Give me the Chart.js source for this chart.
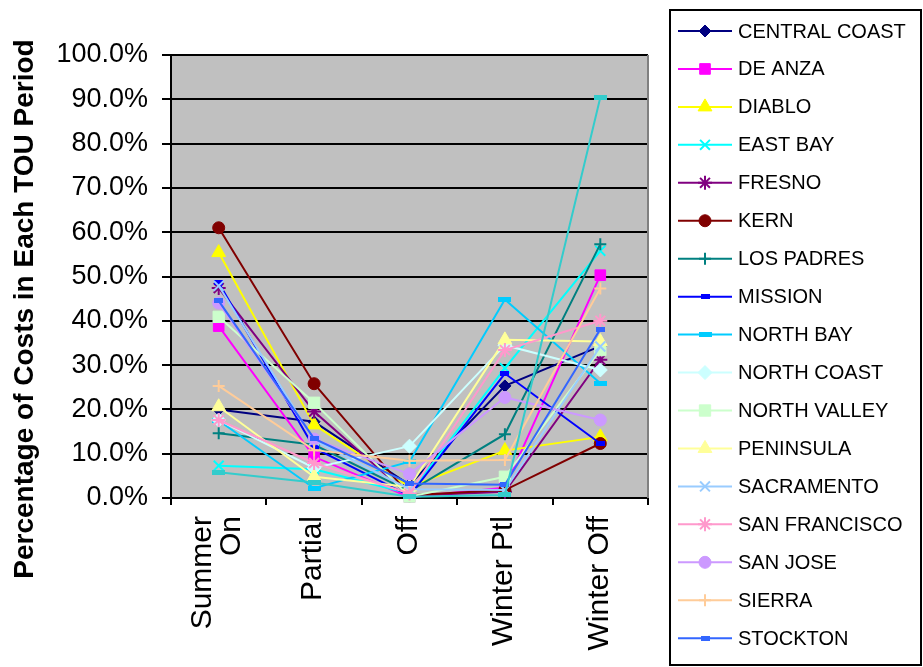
<!DOCTYPE html>
<html>
<head>
<meta charset="utf-8">
<script src="https://cdn.jsdelivr.net/npm/chart.js@4.4.1/dist/chart.umd.min.js"></script>
<style>
  html, body { margin: 0; padding: 0; background: #ffffff; }
  #wrap { width: 923px; height: 667px; position: relative; }
</style>
</head>
<body>
<div id="wrap"><canvas id="c" width="923" height="667"></canvas></div>
<script>
// TOU periods along the x axis
const categories = [['Summer', 'On'], 'Partial', 'Off', 'Winter Ptl', 'Winter Off'];

// Share of costs (%) falling in each TOU period, one array per division
const centralCoast = [20.0, 17.2, 3.0, 25.3, 34.3];
const deAnza       = [38.8, 9.3, 0.2, 2.3, 50.3];
const diablo       = [55.4, 16.5, 2.5, 10.7, 13.8];
const eastBay      = [7.3, 6.5, 1.0, 29.3, 55.8];
const fresno       = [47.4, 19.5, 0.5, 1.4, 31.2];
const kern         = [61.0, 25.8, 0.6, 1.8, 12.3];
const losPadres    = [14.6, 12.0, 1.5, 14.4, 57.3];
const mission      = [48.6, 11.3, 0.5, 28.1, 12.3];
const northBay     = [17.5, 2.2, 8.2, 44.8, 25.9];
const northCoast   = [17.6, 6.8, 11.7, 34.5, 28.9];
const northValley  = [40.9, 21.5, 0.3, 4.8, 33.4];
const peninsula    = [20.6, 4.8, 2.5, 35.7, 35.3];
const sacramento   = [47.9, 13.0, 2.0, 1.8, 34.2];
const sanFrancisco = [17.6, 7.9, 1.0, 33.4, 40.0];
const sanJose      = [44.0, 13.3, 5.4, 22.7, 17.6];
const sierra       = [25.3, 10.8, 8.4, 8.6, 47.3];
const stockton     = [44.5, 13.4, 3.3, 3.0, 38.1];
const yosemite     = [5.8, 3.5, 0.3, 0.7, 90.4];

// Y axis tick values (%)
const yTicks = [0, 10, 20, 30, 40, 50, 60, 70, 80, 90, 100];

// Small filled bar used as the "dash" marker
function dashMarker(color, w, h) {
  const c = document.createElement('canvas');
  c.width = w; c.height = h;
  const g = c.getContext('2d');
  g.fillStyle = color;
  g.fillRect(0, 0, w, h);
  return c;
}

// name, values, colour, marker style, marker radius, shown in legend
const seriesDefs = [
  ['CENTRAL COAST', centralCoast, '#000080', 'rectRot', 6, true],
  ['DE ANZA', deAnza, '#FF00FF', 'rect', 7.5, true],
  ['DIABLO', diablo, '#FFFF00', 'triangle', 8, true],
  ['EAST BAY', eastBay, '#00FFFF', 'crossRot', 7, true],
  ['FRESNO', fresno, '#800080', 'star', 7, true],
  ['KERN', kern, '#800000', 'circle', 6, true],
  ['LOS PADRES', losPadres, '#008080', 'cross', 6, true],
  ['MISSION', mission, '#0000FF', dashMarker('#0000FF', 9, 5), 5, true],
  ['NORTH BAY', northBay, '#00CCFF', dashMarker('#00CCFF', 13, 5), 5, true],
  ['NORTH COAST', northCoast, '#CCFFFF', 'rectRot', 7, true],
  ['NORTH VALLEY', northValley, '#CCFFCC', 'rect', 8, true],
  ['PENINSULA', peninsula, '#FFFF99', 'triangle', 8, true],
  ['SACRAMENTO', sacramento, '#99CCFF', 'crossRot', 7, true],
  ['SAN FRANCISCO', sanFrancisco, '#FF99CC', 'star', 7, true],
  ['SAN JOSE', sanJose, '#CC99FF', 'circle', 6, true],
  ['SIERRA', sierra, '#FFCC99', 'cross', 6, true],
  ['STOCKTON', stockton, '#3366FF', dashMarker('#3366FF', 9, 5), 5, true],
  ['YOSEMITE', yosemite, '#33CCCC', dashMarker('#33CCCC', 13, 5), 5, false]
];

const n = seriesDefs.length;
const datasets = seriesDefs.map((s, i) => ({
  label: s[0],
  data: s[1],
  borderColor: s[2],
  backgroundColor: s[2],
  pointStyle: s[3],
  pointRadius: s[4],
  pointHoverRadius: s[4],
  pointBorderColor: s[2],
  pointBackgroundColor: s[2],
  pointBorderWidth: (s[3] === 'cross' || s[3] === 'crossRot' || s[3] === 'star') ? 2 : 1,
  borderWidth: 2,
  tension: 0,
  fill: false,
  clip: false,
  order: n - 1 - i,
  inLegend: s[5]
}));

const FONT = "'Liberation Sans', Arial, sans-serif";
const PLOT = { left: 171, top: 55, right: 648, bottom: 498 };

// Grey plot background and the grey right-hand frame
const plotFrame = {
  id: 'plotFrame',
  beforeDraw(chart) {
    const a = chart.chartArea, ctx = chart.ctx;
    ctx.save();
    ctx.fillStyle = '#C0C0C0';
    ctx.fillRect(a.left, a.top, a.right - a.left, a.bottom - a.top);
    ctx.restore();
  },
  beforeDatasetsDraw(chart) {
    const a = chart.chartArea, ctx = chart.ctx;
    ctx.save();
    ctx.strokeStyle = '#808080';
    ctx.lineWidth = 2;
    ctx.beginPath();
    ctx.moveTo(a.right, a.top);
    ctx.lineTo(a.right, a.bottom);
    ctx.stroke();
    ctx.restore();
  }
};

// Category labels, rotated to read upwards and ending just below the axis
const xLabels = {
  id: 'xLabels',
  afterDraw(chart) {
    const ctx = chart.ctx, xs = chart.scales.x;
    const lineH = 29;
    ctx.save();
    ctx.font = '30px ' + FONT;
    ctx.fillStyle = '#000';
    ctx.textAlign = 'right';
    ctx.textBaseline = 'middle';
    chart.data.labels.forEach((lab, i) => {
      const lines = Array.isArray(lab) ? lab : [lab];
      const cx = xs.getPixelForValue(i) - 1;
      lines.forEach((t, k) => {
        const x = cx + (k - (lines.length - 1) / 2) * lineH;
        ctx.save();
        ctx.translate(x, 516);
        ctx.rotate(-Math.PI / 2);
        ctx.fillText(t, 0, 0);
        ctx.restore();
      });
    });
    ctx.restore();
  }
};

// Rotated y axis title
const yTitle = {
  id: 'yTitle',
  afterDraw(chart) {
    const ctx = chart.ctx;
    ctx.save();
    ctx.translate(33, 309);
    ctx.rotate(-Math.PI / 2);
    ctx.font = 'bold 28px ' + FONT;
    ctx.fillStyle = '#000';
    ctx.textAlign = 'center';
    ctx.textBaseline = 'alphabetic';
    ctx.fillText('Percentage of Costs in Each TOU Period', 0, 0);
    ctx.restore();
  }
};

// Boxed legend with line + marker samples
const boxLegend = {
  id: 'boxLegend',
  afterDraw(chart) {
    const ctx = chart.ctx;
    ctx.save();
    ctx.strokeStyle = '#000';
    ctx.lineWidth = 2;
    ctx.strokeRect(670, 10, 251, 655);
    let row = 0;
    chart.data.datasets.forEach(ds => {
      if (!ds.inLegend) return;
      const y = 31 + row * 37.95;
      ctx.strokeStyle = ds.borderColor;
      ctx.lineWidth = 2;
      ctx.beginPath();
      ctx.moveTo(678, y);
      ctx.lineTo(732, y);
      ctx.stroke();
      ctx.fillStyle = ds.pointBackgroundColor;
      ctx.strokeStyle = ds.pointBorderColor;
      ctx.lineWidth = ds.pointBorderWidth;
      Chart.helpers.drawPoint(ctx, {
        pointStyle: ds.pointStyle,
        radius: ds.pointRadius,
        borderWidth: ds.pointBorderWidth,
        rotation: 0
      }, 705, y);
      ctx.fillStyle = '#000';
      ctx.font = '20px ' + FONT;
      ctx.textAlign = 'left';
      ctx.textBaseline = 'middle';
      ctx.fillText(ds.label, 738, y + 1);
      row++;
    });
    ctx.restore();
  }
};

new Chart(document.getElementById('c'), {
  type: 'line',
  data: { labels: categories, datasets: datasets },
  options: {
    responsive: false,
    animation: false,
    events: [],
    layout: { padding: { left: 0, top: PLOT.top, right: 923 - PLOT.right, bottom: 0 } },
    plugins: { legend: { display: false }, tooltip: { enabled: false } },
    scales: {
      x: {
        offset: true,
        grid: { display: true, offset: true, drawOnChartArea: false, drawTicks: true, tickLength: 7, color: '#000', lineWidth: 2 },
        border: { display: true, color: '#000', width: 2 },
        ticks: { display: false, autoSkip: false },
        afterFit(scale) { scale.height = 667 - PLOT.bottom; }
      },
      y: {
        min: 0, max: 100,
        afterBuildTicks(scale) { scale.ticks = yTicks.map(v => ({ value: v })); },
        grid: { color: '#000', lineWidth: 2, tickLength: 9, drawTicks: true },
        border: { display: true, color: '#000', width: 2 },
        ticks: {
          color: '#000', font: { family: FONT, size: 27 }, padding: 14,
          callback: v => v.toFixed(1) + '%'
        },
        afterFit(scale) { scale.width = PLOT.left; }
      }
    }
  },
  plugins: [plotFrame, xLabels, yTitle, boxLegend]
});
</script>
</body>
</html>
